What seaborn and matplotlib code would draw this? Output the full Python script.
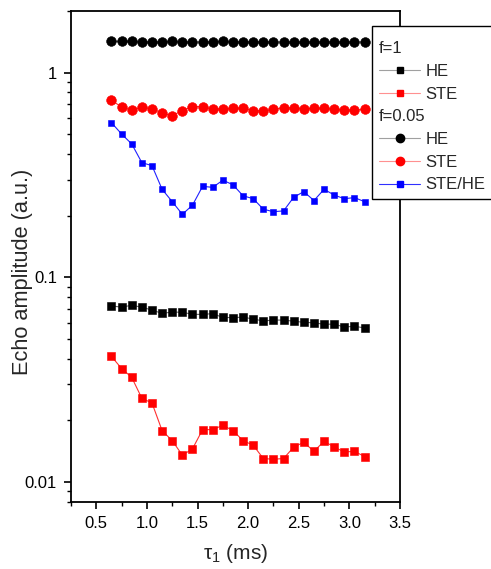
import matplotlib
matplotlib.use("Agg")
import matplotlib.pyplot as plt
import seaborn as sns
import pandas as pd
from matplotlib.lines import Line2D
from matplotlib.ticker import FixedLocator, MultipleLocator, LogLocator, NullFormatter, FixedFormatter

# ---------------- data ----------------
tau = [0.65, 0.75, 0.85, 0.95, 1.05, 1.15, 1.25, 1.35, 1.45, 1.55, 1.65, 1.75, 1.85,
       1.95, 2.05, 2.15, 2.25, 2.35, 2.45, 2.55, 2.65, 2.75, 2.85, 2.95, 3.05, 3.15]

he_f1 = [0.0723, 0.0715, 0.0729, 0.0714, 0.0691, 0.0666, 0.0676, 0.0674, 0.0659, 0.0658,
         0.0664, 0.0636, 0.0635, 0.0638, 0.0625, 0.0611, 0.0618, 0.0617, 0.0610, 0.0602,
         0.0599, 0.0589, 0.0590, 0.0571, 0.0576, 0.0565]
ste_f1 = [0.0410, 0.0358, 0.0324, 0.0256, 0.0243, 0.0178, 0.0159, 0.0135, 0.0145, 0.0180,
          0.0180, 0.0189, 0.0178, 0.0159, 0.0151, 0.0130, 0.0129, 0.0130, 0.0148, 0.0156,
          0.0141, 0.0158, 0.0148, 0.0140, 0.0141, 0.0133]
he_f005 = [1.42, 1.42, 1.42, 1.41, 1.41, 1.41, 1.42, 1.41, 1.41, 1.41, 1.41, 1.42, 1.41,
           1.41, 1.41, 1.41, 1.41, 1.41, 1.41, 1.41, 1.41, 1.41, 1.41, 1.41, 1.41, 1.41]
ste_f005 = [0.735, 0.677, 0.657, 0.677, 0.667, 0.633, 0.616, 0.652, 0.682, 0.682, 0.664,
            0.664, 0.669, 0.669, 0.652, 0.650, 0.662, 0.674, 0.672, 0.667, 0.669, 0.669,
            0.662, 0.655, 0.655, 0.662]
ste_he = [0.569, 0.501, 0.448, 0.363, 0.351, 0.269, 0.234, 0.203, 0.225, 0.278, 0.275,
          0.298, 0.283, 0.250, 0.242, 0.215, 0.209, 0.211, 0.246, 0.262, 0.237, 0.269,
          0.252, 0.242, 0.245, 0.234]

x_ticks = [0.5, 1.0, 1.5, 2.0, 2.5, 3.0, 3.5]
x_tick_labels = ["0.5", "1.0", "1.5", "2.0", "2.5", "3.0", "3.5"]
y_ticks = [0.01, 0.1, 1]
y_tick_labels = ["0.01", "0.1", "1"]

# ---------------- style ----------------
sns.set_style("ticks")
plt.rcParams["font.family"] = ["Liberation Sans", "DejaVu Sans"]
plt.rcParams["mathtext.fontset"] = "custom"
plt.rcParams["mathtext.rm"] = "Liberation Sans"
plt.rcParams["mathtext.it"] = "Liberation Sans:italic"

W, H = 491, 569
fig = plt.figure(figsize=(W / 100, H / 100), dpi=100)
ax = fig.add_axes([71 / W, 1 - 501.7 / H, (400 - 71) / W, (501.7 - 11) / H])

df = pd.DataFrame({"tau": tau, "he_f1": he_f1, "ste_f1": ste_f1,
                   "he_f005": he_f005, "ste_f005": ste_f005, "ste_he": ste_he})

series = [
    # column, line color, marker, marker color, marker size
    ("he_f1", "#606060", "s", "black", 6.0),
    ("ste_f1", "#ff3030", "s", "red", 6.0),
    ("he_f005", "#606060", "o", "black", 7.0),
    ("ste_f005", "#ff3030", "o", "red", 7.0),
    ("ste_he", "#2020ff", "s", "blue", 5.0),
]
for col, lc, mk, mc, ms in series:
    sns.lineplot(data=df, x="tau", y=col, ax=ax, color=lc, lw=0.8, marker=mk,
                 markersize=ms, markerfacecolor=mc, markeredgecolor=mc,
                 markeredgewidth=0.4, errorbar=None)

ax.set_yscale("log")
ax.set_xlim(0.25, 3.5)
ax.set_ylim(0.008, 2.0)

ax.xaxis.set_major_locator(FixedLocator(x_ticks))
ax.xaxis.set_major_formatter(FixedFormatter(x_tick_labels))
ax.xaxis.set_minor_locator(MultipleLocator(0.25))
ax.yaxis.set_major_locator(FixedLocator(y_ticks))
ax.yaxis.set_major_formatter(FixedFormatter(y_tick_labels))
ax.yaxis.set_minor_locator(LogLocator(base=10, subs=[2, 3, 4, 5, 6, 7, 8, 9]))
ax.yaxis.set_minor_formatter(NullFormatter())

for s in ax.spines.values():
    s.set_visible(True)
    s.set_linewidth(1.3)
    s.set_color("black")
ax.tick_params(which="major", direction="out", length=5, width=1.2, labelsize=12,
               pad=5, colors="black")
ax.tick_params(which="minor", direction="out", length=3, width=1.0, colors="black")
ax.tick_params(top=False, right=False, which="both")

ax.set_xlabel("τ$_1$ (ms)", fontsize=15, labelpad=8)
ax.set_ylabel("Echo amplitude (a.u.)", fontsize=15.7)
ax.yaxis.set_label_coords(-0.1155, 0.469)

# ---------------- legend ----------------
def h(lc, mk, mc, ms):
    return Line2D([], [], color=lc, lw=0.8, marker=mk, markersize=ms,
                  markerfacecolor=mc, markeredgecolor=mc)

blank = Line2D([], [], linestyle="none")
handles = [blank, h("#a0a0a0", "s", "black", 5), h("#ff9090", "s", "red", 5),
           blank, h("#a0a0a0", "o", "black", 6), h("#ff9090", "o", "red", 6),
           h("#3030ff", "s", "blue", 5)]
labels = ["f=1", "HE", "STE", "f=0.05", "HE", "STE", "STE/HE"]
leg = fig.legend(handles, labels, loc="upper left",
                 bbox_to_anchor=(372 / W, 1 - 26 / H), bbox_transform=fig.transFigure,
                 borderaxespad=0, fontsize=12, frameon=True, fancybox=False,
                 framealpha=1, edgecolor="black", handlelength=2.5, handletextpad=0.3,
                 labelspacing=0.46, borderpad=0.4, numpoints=1,
                 title=" ", title_fontsize=1)
leg.get_frame().set_linewidth(1.0)

# header rows: remove handle space so text starts at the left
column = leg._legend_handle_box.get_children()[0]
rows = column.get_children()
for i in (0, 3):
    rows[i].get_children()[0].width = 0
    rows[i].sep = 0

fig.savefig("out.png", dpi=100)
